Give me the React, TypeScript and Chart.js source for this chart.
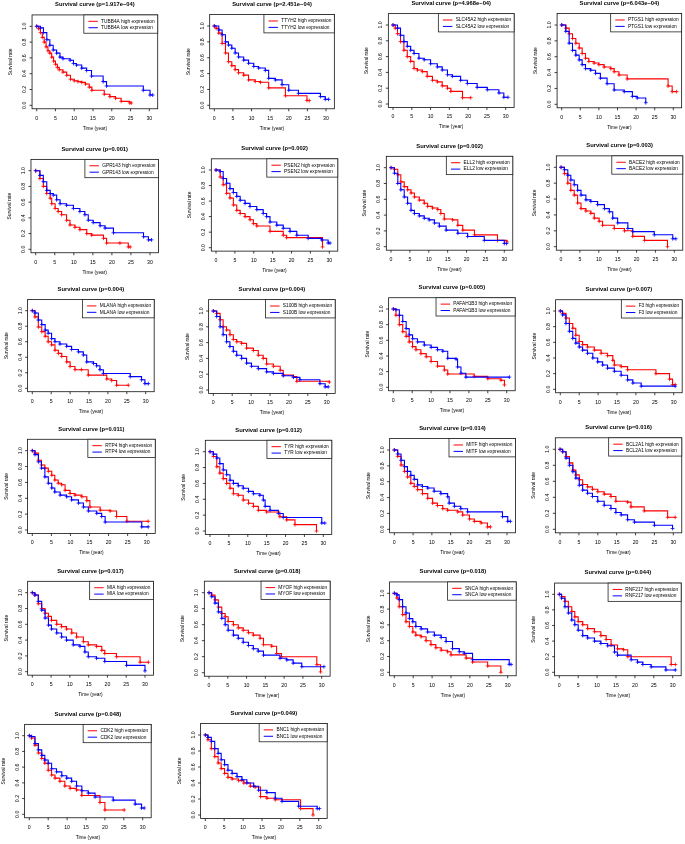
import React, { useEffect, useRef } from "react";
import { Chart, registerables } from "chart.js";
Chart.register(...registerables);

type Pt = [number, number];

// ---------- data: [time (year), survival rate] at each step ----------
const TUBB4A_HIGH: Pt[] = [[0,1],[0.5,0.97],[1,0.92],[1.5,0.86],[2,0.8],[2.5,0.74],[3,0.69],[3.5,0.66],[4,0.61],[4.5,0.56],[5,0.52],[5.5,0.48],[6,0.45],[7,0.42],[8,0.38],[9,0.33],[10,0.31],[11,0.3],[12,0.29],[13,0.27],[14,0.23],[14.7,0.19],[18,0.14],[19.5,0.11],[21,0.09],[22.5,0.05],[24.8,0.03],[25.2,0.03]];
const TUBB4A_LOW: Pt[] = [[0,1],[1,0.98],[1.8,0.92],[2.7,0.83],[3.5,0.76],[4.4,0.7],[5.3,0.66],[6.2,0.61],[7,0.59],[8.9,0.57],[9.8,0.53],[10.6,0.51],[12,0.47],[13.3,0.44],[14.6,0.37],[17.7,0.3],[18.6,0.245],[28.4,0.19],[30.2,0.13],[30.9,0.13]];
const TTYH2_HIGH: Pt[] = [[0,1],[0.5,0.97],[1.2,0.91],[2.1,0.78],[3,0.66],[3.8,0.55],[4.7,0.5],[5.6,0.45],[6.5,0.41],[7.9,0.38],[9.2,0.32],[11,0.3],[12.4,0.29],[14.6,0.22],[19.1,0.12],[24.9,0.06],[25.5,0.06]];
const TTYH2_LOW: Pt[] = [[0,1],[1.2,0.95],[2.1,0.89],[3,0.8],[3.8,0.76],[4.7,0.72],[5.6,0.66],[6.5,0.61],[7.9,0.57],[9.2,0.53],[10.6,0.49],[11.9,0.47],[13.7,0.44],[14.6,0.34],[16.4,0.32],[18.2,0.26],[20,0.19],[22.6,0.15],[28.5,0.11],[29.8,0.075],[30.7,0.075]];
const SLC45A2_HIGH: Pt[] = [[0,1],[0.6,0.96],[1.2,0.89],[2,0.79],[2.9,0.68],[3.8,0.6],[4.7,0.54],[5.6,0.45],[6.5,0.43],[7.8,0.41],[9.1,0.35],[10.5,0.3],[11.8,0.28],[13.1,0.23],[14.5,0.2],[15.4,0.16],[18.5,0.08],[20.7,0.08]];
const SLC45A2_LOW: Pt[] = [[0,1],[1.2,0.96],[2,0.87],[2.9,0.79],[3.8,0.73],[4.7,0.68],[5.6,0.64],[6.9,0.58],[8.3,0.56],[10,0.51],[11.8,0.47],[13.1,0.43],[14.5,0.37],[15.8,0.35],[18,0.3],[19.8,0.26],[22.4,0.21],[25.1,0.18],[28.2,0.14],[29.5,0.085],[30.6,0.085]];
const PTGS1_HIGH: Pt[] = [[0,1],[1.1,0.96],[2,0.89],[2.9,0.83],[3.8,0.77],[4.7,0.71],[5.5,0.64],[6.4,0.58],[7.3,0.54],[8.7,0.52],[10,0.5],[11.4,0.47],[13.2,0.45],[14.1,0.41],[15.4,0.37],[17.6,0.32],[28.6,0.23],[29.7,0.16],[30.9,0.16]];
const PTGS1_LOW: Pt[] = [[0,1],[1.1,0.92],[2,0.77],[2.9,0.68],[3.8,0.62],[4.7,0.56],[5.5,0.5],[6.4,0.45],[7.8,0.43],[9.1,0.39],[10.4,0.33],[12.2,0.26],[14.1,0.18],[16.8,0.16],[19,0.1],[20.3,0.08],[22.6,0.02]];
const GPR143_HIGH: Pt[] = [[0,1],[1.1,0.9],[2,0.8],[2.9,0.71],[3.8,0.65],[4.2,0.58],[5.1,0.52],[5.9,0.48],[6.8,0.44],[8.1,0.37],[9,0.31],[10.3,0.28],[11.6,0.25],[13.4,0.2],[14.7,0.18],[17.8,0.14],[18.6,0.08],[22.1,0.08],[24.3,0.03],[24.8,0.03]];
const GPR143_LOW: Pt[] = [[0,1],[1.1,0.94],[2,0.86],[2.9,0.75],[3.8,0.71],[4.6,0.69],[5.5,0.63],[6.4,0.58],[8.1,0.56],[9.9,0.52],[11.6,0.48],[12.9,0.44],[13.8,0.37],[15.1,0.34],[16.9,0.3],[18.2,0.27],[20.4,0.21],[28.3,0.16],[29.6,0.12],[30.4,0.12]];
const PSEN2_HIGH: Pt[] = [[0,1],[1.1,0.91],[1.9,0.81],[2.8,0.7],[3.7,0.64],[4.6,0.55],[5.5,0.48],[6.4,0.44],[7.7,0.4],[9,0.36],[9.9,0.31],[10.8,0.28],[14.3,0.21],[17.8,0.16],[18.7,0.13],[28.2,0.01]];
const PSEN2_LOW: Pt[] = [[0,1],[1.1,0.98],[1.9,0.89],[2.8,0.83],[3.7,0.76],[4.6,0.71],[5.5,0.66],[6.4,0.61],[7.7,0.57],[9,0.53],[10.8,0.49],[12.5,0.44],[13.4,0.4],[14.3,0.33],[16.1,0.29],[17.8,0.25],[19.6,0.21],[21.4,0.16],[24.4,0.12],[28,0.1],[29.7,0.06],[30.2,0.06]];
const ELL2_HIGH: Pt[] = [[0,1],[0.9,0.98],[1.8,0.91],[2.6,0.82],[3.5,0.76],[4.4,0.72],[5.3,0.68],[6.2,0.63],[7.5,0.59],[8.8,0.55],[9.7,0.51],[11,0.49],[12.4,0.47],[13.2,0.42],[14.1,0.35],[16.3,0.34],[17.7,0.27],[19,0.21],[22.1,0.15],[28.2,0.08],[30.7,0.06]];
const ELL2_LOW: Pt[] = [[0,1],[0.9,0.93],[1.8,0.8],[2.6,0.72],[3.5,0.63],[4.4,0.55],[5.3,0.46],[6.2,0.42],[7.5,0.39],[8.8,0.36],[10.1,0.34],[11.5,0.3],[12.8,0.26],[14.6,0.21],[17.7,0.17],[20.3,0.13],[24.7,0.08],[30,0.04],[30.6,0.04]];
const BACE2_HIGH: Pt[] = [[0,1],[0.9,0.92],[1.8,0.8],[2.6,0.71],[3.5,0.65],[4.4,0.55],[5.3,0.48],[6.6,0.45],[7.9,0.42],[8.8,0.36],[10.1,0.32],[11,0.27],[14.1,0.23],[16.8,0.2],[19,0.13],[22.1,0.08],[28.2,0]];
const BACE2_LOW: Pt[] = [[0,1],[0.9,0.97],[1.8,0.9],[2.6,0.84],[3.5,0.78],[4.4,0.71],[5.3,0.65],[6.6,0.59],[7.9,0.57],[9.7,0.53],[11.5,0.48],[12.8,0.44],[13.7,0.36],[15,0.3],[17.7,0.23],[19,0.19],[24.7,0.15],[29.6,0.1],[30.4,0.1]];
const MLANA_HIGH: Pt[] = [[0,1],[0.7,0.92],[1.6,0.79],[2.5,0.73],[3.4,0.67],[4.2,0.6],[5.1,0.56],[6,0.49],[6.9,0.45],[7.8,0.41],[9.1,0.34],[10,0.28],[11.3,0.24],[13,0.24],[14.8,0.17],[19.7,0.12],[21,0.1],[22.3,0.04],[25.4,0.04]];
const MLANA_LOW: Pt[] = [[0,1],[0.7,0.97],[1.6,0.88],[2.5,0.82],[3.4,0.75],[4.2,0.71],[5.1,0.64],[6,0.6],[7.3,0.57],[9.1,0.54],[10.4,0.5],[12.2,0.47],[13.5,0.43],[14.4,0.34],[16.2,0.32],[17,0.29],[17.9,0.24],[18.8,0.19],[25.9,0.15],[28.9,0.11],[29.8,0.06],[30.7,0.06]];
const S100B_HIGH: Pt[] = [[0,1],[0.9,0.97],[1.8,0.89],[2.6,0.8],[3.5,0.76],[4.4,0.7],[5.3,0.64],[6.2,0.61],[7.5,0.59],[8.8,0.53],[10.6,0.5],[11.9,0.44],[13.2,0.4],[14.1,0.33],[15.9,0.3],[17.7,0.25],[18.5,0.19],[21.2,0.17],[22.1,0.11],[30.7,0.1]];
const S100B_LOW: Pt[] = [[0,1],[0.9,0.93],[1.8,0.8],[2.6,0.7],[3.5,0.61],[4.4,0.55],[5.3,0.49],[6.2,0.44],[7.5,0.4],[8.8,0.34],[10.1,0.3],[11.9,0.27],[14.1,0.23],[15.9,0.21],[18.5,0.18],[21.2,0.16],[22.9,0.13],[28.2,0.08],[29.6,0.04],[30.4,0.04]];
const PAFAH1B3_HIGH: Pt[] = [[0,1],[0.7,0.92],[1.6,0.8],[2.5,0.71],[3.4,0.65],[4.2,0.58],[5.1,0.52],[6,0.48],[7.3,0.43],[8.7,0.39],[10,0.33],[11.7,0.27],[13.5,0.22],[14.4,0.17],[21.4,0.14],[25,0.11],[28.5,0.09],[29.4,0.03]];
const PAFAH1B3_LOW: Pt[] = [[0,1],[0.7,0.99],[1.6,0.92],[2.5,0.84],[3.4,0.75],[4.2,0.67],[5.1,0.62],[6.4,0.58],[8.2,0.54],[10,0.51],[11.7,0.48],[13.1,0.46],[14.4,0.37],[16.6,0.36],[17,0.26],[17.9,0.18],[19.2,0.13],[30.7,0.13]];
const F3_HIGH: Pt[] = [[0,1],[0.6,0.97],[1.5,0.91],[2.4,0.84],[3.3,0.78],[4.1,0.69],[5,0.61],[5.9,0.57],[7.2,0.54],[9,0.5],[10.8,0.46],[12.5,0.43],[13.9,0.37],[14.3,0.31],[16.1,0.29],[17.8,0.25],[25.3,0.2],[28.9,0.13],[29.7,0.06],[30.4,0.06]];
const F3_LOW: Pt[] = [[0,1],[0.6,0.95],[1.5,0.84],[2.4,0.74],[3.3,0.65],[4.1,0.59],[5,0.54],[5.9,0.5],[7.2,0.46],[8.6,0.4],[9.9,0.35],[11.2,0.31],[12.5,0.27],[14.3,0.23],[16.1,0.18],[17.8,0.12],[19.2,0.08],[21.4,0.04],[30.4,0.04]];
const RTP4_HIGH: Pt[] = [[0,1],[0.7,0.97],[1.6,0.88],[2.4,0.82],[3.3,0.78],[4.2,0.74],[5.1,0.69],[5.9,0.63],[6.8,0.59],[7.7,0.57],[8.6,0.5],[9.9,0.46],[11.2,0.44],[13,0.42],[14.3,0.37],[15.1,0.29],[17.8,0.25],[20.4,0.24],[22.1,0.17],[24.8,0.11],[30.4,0.11]];
const RTP4_LOW: Pt[] = [[0,1],[0.7,0.95],[1.6,0.86],[2.4,0.78],[3.3,0.67],[4.2,0.59],[5.1,0.53],[5.9,0.48],[7.3,0.44],[9,0.42],[10.3,0.38],[12.1,0.34],[13.4,0.29],[14.7,0.24],[16.9,0.21],[18.2,0.17],[19.1,0.1],[28.7,0.04],[30.4,0.04]];
const TYR_HIGH: Pt[] = [[0,1],[0.9,0.94],[1.8,0.81],[2.6,0.73],[3.5,0.66],[4.4,0.6],[5.3,0.54],[6.2,0.47],[7.5,0.45],[8.8,0.39],[10.2,0.35],[11.5,0.31],[12.8,0.26],[15,0.24],[18.5,0.18],[20.3,0.14],[22.5,0.08],[28.2,0]];
const TYR_LOW: Pt[] = [[0,1],[0.9,0.97],[1.8,0.92],[2.6,0.85],[3.5,0.77],[4.4,0.71],[5.3,0.64],[6.2,0.6],[7.5,0.57],[8.8,0.54],[10.2,0.5],[11.5,0.47],[13.2,0.45],[14.1,0.39],[14.6,0.31],[15.9,0.26],[18.1,0.22],[19.4,0.17],[29.6,0.1],[30.4,0.1]];
const MITF_HIGH: Pt[] = [[0,1],[0.9,0.92],[1.8,0.81],[2.7,0.73],[3.5,0.66],[4.4,0.58],[5.3,0.54],[6.2,0.5],[7.5,0.45],[8.9,0.39],[10.2,0.33],[11.5,0.3],[12.9,0.26],[14.2,0.24],[16.9,0.22],[18.2,0.18],[20,0.13],[21.3,0.1],[23.1,0.08],[24.8,0.03],[25.6,0.03]];
const MITF_LOW: Pt[] = [[0,1],[0.9,0.95],[1.8,0.87],[2.7,0.79],[3.5,0.73],[4.4,0.68],[5.3,0.63],[6.2,0.56],[7.5,0.54],[8.9,0.52],[10.6,0.48],[12.4,0.45],[14.2,0.41],[14.6,0.33],[16,0.29],[17.7,0.26],[19.5,0.22],[28.8,0.16],[30.2,0.1],[30.9,0.1]];
const BCL2A1_HIGH: Pt[] = [[0,1],[0.7,0.97],[1.6,0.91],[2.5,0.83],[3.4,0.74],[4.2,0.68],[5.1,0.62],[6,0.56],[7.3,0.53],[8.6,0.5],[10,0.47],[11.7,0.44],[13.5,0.41],[14.8,0.35],[17.9,0.34],[18.8,0.28],[22.3,0.23],[28.5,0.15],[30.5,0.15]];
const BCL2A1_LOW: Pt[] = [[0,1],[0.7,0.97],[1.6,0.89],[2.5,0.8],[3.4,0.72],[4.2,0.64],[5.1,0.55],[6,0.49],[7.3,0.45],[8.6,0.41],[10,0.35],[11.7,0.3],[13.5,0.26],[14.8,0.21],[16.2,0.18],[17.9,0.12],[19.7,0.09],[25,0.05],[29.8,0.01]];
const MIA_HIGH: Pt[] = [[0,1],[0.7,0.97],[1.6,0.86],[2.5,0.8],[3.4,0.74],[4.3,0.7],[5.1,0.65],[6.5,0.6],[7.8,0.57],[9.1,0.54],[10.5,0.49],[11.8,0.44],[13.6,0.38],[14.9,0.34],[17.1,0.32],[18.5,0.27],[19.3,0.23],[22.4,0.19],[28.7,0.12],[30.9,0.12]];
const MIA_LOW: Pt[] = [[0,1],[0.7,0.97],[1.6,0.89],[2.5,0.78],[3.4,0.68],[4.3,0.59],[5.1,0.54],[6.5,0.49],[7.8,0.44],[9.1,0.4],[10.9,0.34],[12.7,0.32],[14,0.25],[14.9,0.19],[17.1,0.17],[19.3,0.13],[25.1,0.08],[30,0.01]];
const MYOF_HIGH: Pt[] = [[0,1],[0.7,0.97],[1.6,0.91],[2.5,0.82],[3.4,0.74],[4.3,0.7],[5.1,0.64],[6.5,0.6],[7.8,0.56],[9.1,0.53],[10.5,0.5],[11.8,0.47],[13.6,0.43],[14.5,0.35],[16.7,0.33],[18,0.24],[19.3,0.2],[28.7,0.1],[29.7,0.01]];
const MYOF_LOW: Pt[] = [[0,1],[0.7,0.95],[1.6,0.87],[2.5,0.76],[3.4,0.68],[4.3,0.6],[5.1,0.53],[6.5,0.47],[7.8,0.43],[9.1,0.38],[10.5,0.34],[11.8,0.3],[13.1,0.27],[14.5,0.22],[18.9,0.18],[20.7,0.16],[22.4,0.12],[24.7,0.075],[30.6,0.075]];
const SNCA_HIGH: Pt[] = [[0,1],[0.7,0.94],[1.3,0.83],[2.2,0.73],[3.1,0.64],[4,0.58],[4.9,0.51],[5.7,0.47],[7.1,0.45],[8.4,0.4],[9.7,0.35],[11,0.31],[12.4,0.28],[14.1,0.26],[15,0.22],[19,0.18],[20.7,0.13],[24.7,0.08],[28.2,0]];
const SNCA_LOW: Pt[] = [[0,1],[0.7,0.98],[1.3,0.92],[2.2,0.83],[3.1,0.75],[4,0.68],[4.9,0.64],[5.7,0.58],[7.1,0.55],[8.8,0.51],[10.6,0.47],[12.4,0.44],[13.7,0.39],[15.4,0.3],[17.2,0.26],[18.5,0.24],[20.7,0.16],[30.4,0.1],[30.9,0.1]];
const RNF217_HIGH: Pt[] = [[0,1],[0.6,0.97],[1.5,0.91],[2.4,0.84],[3.3,0.78],[4.1,0.71],[5,0.65],[6.2,0.61],[7.5,0.56],[9.3,0.52],[11,0.47],[12.4,0.42],[13.7,0.35],[15.4,0.3],[17,0.29],[18.1,0.2],[29.6,0.1],[30.7,0.1]];
const RNF217_LOW: Pt[] = [[0,1],[0.6,0.95],[1.5,0.84],[2.4,0.76],[3.3,0.67],[4.1,0.61],[5,0.54],[6.2,0.47],[7.5,0.44],[9.3,0.4],[11,0.37],[12.8,0.34],[14.6,0.26],[15.4,0.22],[19,0.16],[20.7,0.13],[22.1,0.1],[24.3,0.07],[28.2,0.03],[30.7,0.03]];
const CDK2_HIGH: Pt[] = [[0,1],[0.6,0.97],[1.5,0.88],[2.4,0.78],[3.3,0.71],[4.1,0.65],[5,0.56],[5.9,0.5],[6.8,0.46],[8.1,0.42],[9.4,0.36],[10.8,0.33],[12.5,0.31],[13.9,0.24],[18.7,0.15],[20,0.055],[25.1,0.055]];
const CDK2_LOW: Pt[] = [[0,1],[0.6,0.99],[1.5,0.9],[2.4,0.82],[3.3,0.75],[4.1,0.69],[5,0.65],[5.9,0.58],[7.2,0.54],[8.6,0.49],[9.9,0.46],[11.2,0.42],[12.5,0.36],[13.9,0.3],[15.6,0.27],[17.4,0.22],[22.2,0.18],[28,0.13],[29.7,0.08],[30.4,0.08]];
const BNC1_HIGH: Pt[] = [[0,1],[0.7,0.94],[1.6,0.83],[2.5,0.73],[3.4,0.65],[4.2,0.58],[5.1,0.52],[6,0.47],[7.1,0.45],[8.8,0.43],[10.2,0.4],[11.9,0.36],[13.2,0.35],[14.6,0.23],[16.3,0.21],[18.5,0.19],[25.2,0.08],[28.5,0]];
const BNC1_LOW: Pt[] = [[0,1],[0.7,0.97],[1.6,0.92],[2.5,0.83],[3.4,0.77],[4.2,0.69],[5.1,0.63],[6,0.56],[7.1,0.52],[8.4,0.48],[9.7,0.44],[11,0.4],[12.8,0.36],[14.1,0.31],[16.3,0.28],[18.5,0.21],[20.3,0.17],[24.7,0.11],[29.6,0.08],[30.2,0.08]];

const GENES = ["TUBB4A","TTYH2","SLC45A2","PTGS1","GPR143","PSEN2","ELL2","BACE2","MLANA","S100B","PAFAH1B3","F3","RTP4","TYR","MITF","BCL2A1","MIA","MYOF","SNCA","RNF217","CDK2","BNC1"];
const P_VALUES = ["1.917e\u221204","2.451e\u221204","4.968e\u221204","6.043e\u221204","0.001","0.002","0.002","0.003","0.004","0.004","0.005","0.007","0.011","0.012","0.014","0.016","0.017","0.018","0.018","0.044","0.048","0.049"];
const CURVES: Record<string, [Pt[], Pt[]]> = {
  TUBB4A: [TUBB4A_HIGH, TUBB4A_LOW], TTYH2: [TTYH2_HIGH, TTYH2_LOW], SLC45A2: [SLC45A2_HIGH, SLC45A2_LOW], PTGS1: [PTGS1_HIGH, PTGS1_LOW],
  GPR143: [GPR143_HIGH, GPR143_LOW], PSEN2: [PSEN2_HIGH, PSEN2_LOW], ELL2: [ELL2_HIGH, ELL2_LOW], BACE2: [BACE2_HIGH, BACE2_LOW],
  MLANA: [MLANA_HIGH, MLANA_LOW], S100B: [S100B_HIGH, S100B_LOW], PAFAH1B3: [PAFAH1B3_HIGH, PAFAH1B3_LOW], F3: [F3_HIGH, F3_LOW],
  RTP4: [RTP4_HIGH, RTP4_LOW], TYR: [TYR_HIGH, TYR_LOW], MITF: [MITF_HIGH, MITF_LOW], BCL2A1: [BCL2A1_HIGH, BCL2A1_LOW],
  MIA: [MIA_HIGH, MIA_LOW], MYOF: [MYOF_HIGH, MYOF_LOW], SNCA: [SNCA_HIGH, SNCA_LOW], RNF217: [RNF217_HIGH, RNF217_LOW],
  CDK2: [CDK2_HIGH, CDK2_LOW], BNC1: [BNC1_HIGH, BNC1_LOW],
};
const X_TICKS = [0, 5, 10, 15, 20, 25, 30];
const Y_TICKS = [0, 0.2, 0.4, 0.6, 0.8, 1];
const Y_TICK_LABELS = ["0.0", "0.2", "0.4", "0.6", "0.8", "1.0"];

// ---------- layout (page px): position of t=0, t=30, S=1, S=0 ----------
const LAYOUT: number[][] = [
  [36.7, 149.3, 26.3, 105.3], [214.3, 326, 26, 105.3], [393, 505.7, 25, 104], [561.7, 673.3, 25, 104.3],
  [35.7, 150, 170.7, 249.3], [216, 329.3, 170, 247.7], [391, 504.3, 167.7, 246.7], [561, 674.3, 167.3, 246.7],
  [32.3, 145.7, 310.7, 388.3], [213.3, 326.7, 311, 390], [393.3, 506.7, 309, 387.3], [560.3, 673.7, 311, 389.3],
  [32.3, 146.7, 450.7, 530], [210, 323.3, 451.7, 531], [394.3, 507, 450, 529.3], [560, 673.3, 449.3, 529.3],
  [32.3, 145, 592.7, 671.7], [209, 321.7, 592.7, 672.7], [394.3, 507.7, 593.3, 672.3], [559.3, 672.7, 594.3, 672.3],
  [29.3, 142.7, 735.7, 814.3], [205.3, 318.7, 735, 815],
];
const X_MIN = -1.24, X_MAX = 32.24, Y_MIN = -0.044, Y_MAX = 1.144;
const FAMILY = '"Liberation Sans", Arial, Helvetica, sans-serif';
const RED = "#FF0000", BLUE = "#0000FF";

function makeRPlot(title: string) {
  return {
    id: "rPlot",
    afterDraw(chart: any) {
      const { ctx, chartArea: a, scales } = chart;
      const xs = scales.x, ys = scales.y;
      const yZero = ys.getPixelForValue(0), yOne = ys.getPixelForValue(1), xZero = xs.getPixelForValue(0);
      ctx.save();
      ctx.strokeStyle = "#111";
      ctx.lineWidth = 0.8;
      ctx.strokeRect(a.left, a.top, a.right - a.left, a.bottom - a.top);
      ctx.fillStyle = "#000";
      // x axis
      ctx.font = `5.2px ${FAMILY}`;
      ctx.textAlign = "center";
      ctx.textBaseline = "middle";
      ctx.beginPath();
      X_TICKS.forEach((v) => {
        const px = xs.getPixelForValue(v);
        ctx.moveTo(px, a.bottom); ctx.lineTo(px, a.bottom + 2.5);
        ctx.fillText(String(v), px, yZero + 13);
      });
      // y axis
      Y_TICKS.forEach((v, i) => {
        const py = ys.getPixelForValue(v);
        ctx.moveTo(a.left, py); ctx.lineTo(a.left - 2.5, py);
        ctx.save();
        ctx.translate(a.left - 7.5, py);
        ctx.rotate(-Math.PI / 2);
        ctx.fillText(Y_TICK_LABELS[i], 0, 0);
        ctx.restore();
      });
      ctx.stroke();
      // axis titles
      ctx.font = `4.8px ${FAMILY}`;
      ctx.fillText("Time (year)", (a.left + a.right) / 2, yZero + 23);
      ctx.save();
      ctx.translate(xZero - 26, (a.top + a.bottom) / 2);
      ctx.rotate(-Math.PI / 2);
      ctx.fillText("Survival rate", 0, 0);
      ctx.restore();
      // title
      ctx.font = `bold 5.8px ${FAMILY}`;
      ctx.fillText(title, (a.left + a.right) / 2, yOne - 21.5);
      // legend (top right, inside box)
      ctx.font = `4.8px ${FAMILY}`;
      const ds = chart.data.datasets;
      const tw = Math.max(...ds.map((d: any) => ctx.measureText(d.label).width));
      const bw = 17.3 + tw + 3, bh = 18.3;
      const bx = a.right - bw, by = a.top;
      ctx.fillStyle = "#fff";
      ctx.fillRect(bx, by, bw, bh);
      ctx.strokeStyle = "#222";
      ctx.strokeRect(bx, by, bw, bh);
      ctx.textAlign = "left";
      ds.forEach((d: any, i: number) => {
        const yy = by + 6.4 + i * 6.4;
        ctx.strokeStyle = d.borderColor;
        ctx.lineWidth = 1;
        ctx.beginPath();
        ctx.moveTo(bx + 4.6, yy); ctx.lineTo(bx + 14, yy);
        ctx.stroke();
        ctx.fillStyle = "#000";
        ctx.fillText(d.label, bx + 17.3, yy);
      });
      ctx.restore();
    },
  };
}

function Panel({ idx }: { idx: number }) {
  const ref = useRef<HTMLCanvasElement>(null);
  const [x0, x30, y1, y0] = LAYOUT[idx];
  const k = (x30 - x0) / 30, u = y0 - y1;
  const L = x0 + X_MIN * k, R = x0 + X_MAX * k;
  const T = y1 - (Y_MAX - 1) * u, B = y0 - Y_MIN * u;
  const cl = Math.floor(L - 42), ct = Math.floor(T - 28);
  const cw = Math.ceil(R + 5) - cl, ch = Math.ceil(B + 30) - ct;

  useEffect(() => {
    const gene = GENES[idx];
    const [hi, lo] = CURVES[gene];
    const mk = (pts: Pt[], label: string, color: string, order: number) => ({
      label,
      data: pts.map(([x, y]) => ({ x, y })),
      borderColor: color,
      backgroundColor: color,
      borderWidth: 1.1,
      stepped: true,
      fill: false,
      pointStyle: "cross",
      pointRadius: 1.9,
      pointBorderWidth: 0.8,
      pointBorderColor: color,
      pointHoverRadius: 0,
      order,
    });
    const chart = new Chart(ref.current as HTMLCanvasElement, {
      type: "line",
      data: {
        datasets: [
          mk(hi, `${gene} high expression`, RED, 1),
          mk(lo, `${gene} low expression`, BLUE, 0),
        ] as any,
      },
      options: {
        responsive: false,
        animation: false,
        devicePixelRatio: 1,
        events: [],
        layout: { padding: { left: L - cl, top: T - ct, right: cl + cw - R, bottom: ct + ch - B } },
        scales: {
          x: { type: "linear", min: X_MIN, max: X_MAX, display: false },
          y: { type: "linear", min: Y_MIN, max: Y_MAX, display: false },
        },
        plugins: { legend: { display: false }, tooltip: { enabled: false }, title: { display: false } },
      } as any,
      plugins: [makeRPlot(`Survival curve (p=${P_VALUES[idx]})`)],
    });
    return () => chart.destroy();
  }, [idx]);

  return (
    <canvas
      ref={ref}
      width={cw}
      height={ch}
      style={{ position: "absolute", left: cl, top: ct, width: cw, height: ch }}
    />
  );
}

export default function App() {
  return (
    <div style={{ position: "absolute", left: 0, top: 0, width: 685, height: 844, overflow: "hidden", background: "#fff" }}>
      {GENES.map((g, i) => (
        <Panel key={g} idx={i} />
      ))}
    </div>
  );
}
